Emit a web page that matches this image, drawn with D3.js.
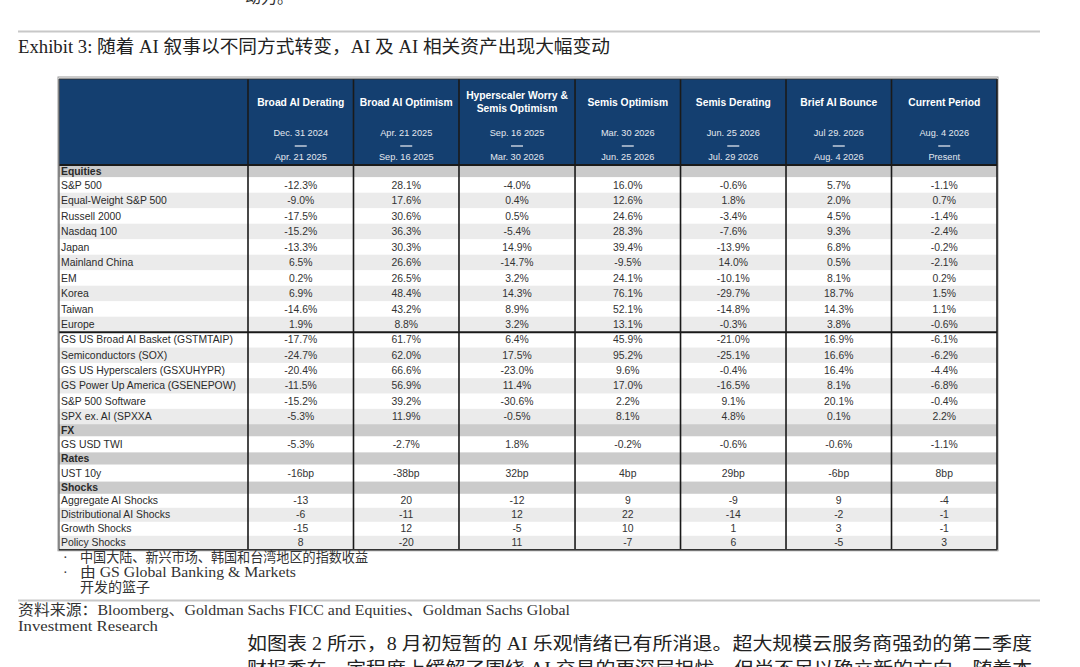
<!DOCTYPE html>
<html><head><meta charset="utf-8">
<script src="https://cdn.jsdelivr.net/npm/d3@7"></script>
<style>
html,body{margin:0;padding:0;background:#fff;}
svg{display:block;}
</style></head>
<body>
<script>
// ---------- data ----------
const columns = ["Broad AI Derating","Broad AI Optimism","Hyperscaler Worry &|Semis Optimism","Semis Optimism","Semis Derating","Brief AI Bounce","Current Period"];
const startDates = ["Dec. 31 2024","Apr. 21 2025","Sep. 16 2025","Mar. 30 2026","Jun. 25 2026","Jul 29. 2026","Aug. 4 2026"];
const endDates = ["Apr. 21 2025","Sep. 16 2025","Mar. 30 2026","Jun. 25 2026","Jul. 29 2026","Aug. 4 2026","Present"];

const equityLabels = ["S&P 500","Equal-Weight S&P 500","Russell 2000","Nasdaq 100","Japan","Mainland China","EM","Korea","Taiwan","Europe"];
const equityValues = [
  [-12.3,28.1,-4.0,16.0,-0.6,5.7,-1.1],
  [-9.0,17.6,0.4,12.6,1.8,2.0,0.7],
  [-17.5,30.6,0.5,24.6,-3.4,4.5,-1.4],
  [-15.2,36.3,-5.4,28.3,-7.6,9.3,-2.4],
  [-13.3,30.3,14.9,39.4,-13.9,6.8,-0.2],
  [6.5,26.6,-14.7,-9.5,14.0,0.5,-2.1],
  [0.2,26.5,3.2,24.1,-10.1,8.1,0.2],
  [6.9,48.4,14.3,76.1,-29.7,18.7,1.5],
  [-14.6,43.2,8.9,52.1,-14.8,14.3,1.1],
  [1.9,8.8,3.2,13.1,-0.3,3.8,-0.6]
];
const aiLabels = ["GS US Broad AI Basket (GSTMTAIP)","Semiconductors (SOX)","GS US Hyperscalers (GSXUHYPR)","GS Power Up America (GSENEPOW)","S&P 500 Software","SPX ex. AI (SPXXA"];
const aiValues = [
  [-17.7,61.7,6.4,45.9,-21.0,16.9,-6.1],
  [-24.7,62.0,17.5,95.2,-25.1,16.6,-6.2],
  [-20.4,66.6,-23.0,9.6,-0.4,16.4,-4.4],
  [-11.5,56.9,11.4,17.0,-16.5,8.1,-6.8],
  [-15.2,39.2,-30.6,2.2,9.1,20.1,-0.4],
  [-5.3,11.9,-0.5,8.1,4.8,0.1,2.2]
];
const fxLabels = ["GS USD TWI"];
const fxValues = [[-5.3,-2.7,1.8,-0.2,-0.6,-0.6,-1.1]];
const ratesLabels = ["UST 10y"];
const ratesValues = [[-16,-38,32,4,29,-6,8]];
const shockLabels = ["Aggregate AI Shocks","Distributional AI Shocks","Growth Shocks","Policy Shocks"];
const shockValues = [
  [-13,20,-12,9,-9,9,-4],
  [-6,-11,12,22,-14,-2,-1],
  [-15,12,-5,10,1,3,-1],
  [8,-20,11,-7,6,-5,3]
];
const sectionNames = ["Equities","FX","Rates","Shocks"];
const footnotes = ["中国大陆、新兴市场、韩国和台湾地区的指数收益","由 GS Global Banking & Markets|开发的篮子"];
const titleText = "Exhibit 3: 随着 AI 叙事以不同方式转变，AI 及 AI 相关资产出现大幅变动";
const sourceText = ["资料来源：Bloomberg、Goldman Sachs FICC and Equities、Goldman Sachs Global","Investment Research"];
const bodyText = ["如图表 2 所示，8 月初短暂的 AI 乐观情绪已有所消退。超大规模云服务商强劲的第二季度","财报季在一定程度上缓解了围绕 AI 交易的更深层担忧，但尚不足以确立新的方向。随着本"];
const topCutText = "动力。";

// ---------- layout ----------
const W = 1080, H = 667;
const svg = d3.select("body").append("svg").attr("width",W).attr("height",H);
const sans = "'Liberation Sans', Arial, sans-serif";
const serif = "'Liberation Serif','DejaVu Serif','Noto Sans CJK SC',serif";

const hy = s => s.replace(/\u2212/g, "-");
const pct = v => hy(d3.format(".1f")(v)) + "%";
const bp = v => hy(d3.format("d")(v)) + "bp";
const num = v => hy(d3.format("d")(v));

// Build row model
const rows = [];
function addSection(name, labels, values, fmt, h, group){
  rows.push({type:"section", label:name, h:12.2});
  labels.forEach((l,i)=>rows.push({type:"data", label:l, values:values[i], fmt, h, group}));
}
addSection(sectionNames[0], equityLabels, equityValues, pct, 15.5, "eq");
aiLabels.forEach((l,i)=>rows.push({type:"data", label:l, values:aiValues[i], fmt:pct, h:15.33, group:"ai"}));
addSection(sectionNames[1], fxLabels, fxValues, pct, 16, "fx");
addSection(sectionNames[2], ratesLabels, ratesValues, bp, 17, "rt");
addSection(sectionNames[3], shockLabels, shockValues, num, 14, "sh");

const tableLeft = 59, tableRight = 997, headTop = 79, headBottom = 165;
let yc = headBottom;
let stripe = 0;
rows.forEach((r,i)=>{
  r.y = yc; yc += r.h;
  if(r.type==="data"){ r.stripe = stripe++ % 2; } else { stripe = 0; }
});
const tableBottom = yc;

// column scale (Hyperscaler column is wider)
const colWeights = [1,1,1.1,1,1,1,1];
const cum = [0, ...d3.cumsum(colWeights)];
const x = d3.scaleLinear().domain([0, cum[cum.length-1]]).range([248, tableRight]);
const colX0 = i => x(cum[i]);
const colX1 = i => x(cum[i+1]);
const colC = i => (colX0(i)+colX1(i))/2;

// top cut text and line
svg.append("text").attr("x",245).attr("y",3).attr("font-family",serif).attr("font-size",16).attr("fill","#333").text(topCutText);
svg.append("line").attr("x1",18).attr("x2",1040).attr("y1",31.5).attr("y2",31.5).attr("stroke","#c8c8c8").attr("stroke-width",2);
svg.append("text").attr("x",18).attr("y",53).attr("font-family",serif).attr("font-size",18).attr("fill","#222")
  .attr("textLength",592).attr("lengthAdjust","spacingAndGlyphs").text(titleText);

// header band
const g = svg.append("g");
g.append("rect").attr("x",tableLeft-1).attr("y",headTop-2).attr("width",tableRight-tableLeft+2).attr("height",tableBottom-headTop+3).attr("fill","none").attr("stroke","#9a9a9a").attr("stroke-width",1);
g.append("rect").attr("x",tableLeft).attr("y",headTop).attr("width",tableRight-tableLeft).attr("height",headBottom-headTop).attr("fill","#143f70");

// rows background
g.selectAll("rect.row").data(rows).join("rect").attr("class","row")
  .attr("x",tableLeft).attr("width",tableRight-tableLeft)
  .attr("y",d=>d.y).attr("height",d=>d.h+0.3)
  .attr("fill",d=>d.type==="section" ? "#cbcbcb" : (d.stripe ? "#ebebeb" : "#ffffff"));

// header texts
columns.forEach((c,i)=>{
  const parts = c.split("|");
  const t = g.append("text").attr("text-anchor","middle").attr("font-family",sans).attr("font-weight","bold").attr("font-size",10.3).attr("fill","#fff");
  if(parts.length===1){
    t.append("tspan").attr("x",colC(i)).attr("y",106).text(parts[0]);
  } else {
    t.append("tspan").attr("x",colC(i)).attr("y",99).text(parts[0]);
    t.append("tspan").attr("x",colC(i)).attr("y",112).text(parts[1]);
  }
  g.append("text").attr("x",colC(i)).attr("y",136).attr("text-anchor","middle").attr("font-family",sans).attr("font-size",9.2).attr("fill","#e4e8ef").text(startDates[i]);
  g.append("line").attr("x1",colC(i)-6).attr("x2",colC(i)+6).attr("y1",146).attr("y2",146).attr("stroke","#dfe4ec").attr("stroke-width",1.3);
  g.append("text").attr("x",colC(i)).attr("y",160).attr("text-anchor","middle").attr("font-family",sans).attr("font-size",9.2).attr("fill","#e4e8ef").text(endDates[i]);
});

// row labels
g.selectAll("text.lab").data(rows).join("text").attr("class","lab")
  .attr("x",61).attr("y",d=>d.y+d.h/2+3.6)
  .attr("font-family",sans).attr("font-size",10.4)
  .attr("font-weight",d=>d.type==="section"?"bold":"normal")
  .attr("fill","#2a2a2a").text(d=>d.label);

// values
const dataRows = rows.filter(r=>r.type==="data");
const cells = dataRows.flatMap(r=>r.values.map((v,i)=>({r,v,i})));
g.selectAll("text.val").data(cells).join("text").attr("class","val")
  .attr("x",d=>colC(d.i)).attr("y",d=>d.r.y+d.r.h/2+3.6)
  .attr("text-anchor","middle").attr("font-family",sans).attr("font-size",10.4).attr("fill","#333")
  .text(d=>d.r.fmt(d.v));

// lines
g.append("line").attr("x1",tableLeft).attr("x2",tableRight).attr("y1",headBottom).attr("y2",headBottom).attr("stroke","#1a1a1a").attr("stroke-width",2);
const aiStart = rows.find(r=>r.group==="ai").y;
g.append("line").attr("x1",tableLeft).attr("x2",tableRight).attr("y1",aiStart).attr("y2",aiStart).attr("stroke","#1a1a1a").attr("stroke-width",2);
d3.range(columns.length).forEach(i=>{
  g.append("line").attr("x1",colX0(i)).attr("x2",colX0(i)).attr("y1",headTop).attr("y2",tableBottom).attr("stroke","#1a1a1a").attr("stroke-width",1.6);
});
g.append("line").attr("x1",tableRight).attr("x2",tableRight).attr("y1",headTop).attr("y2",tableBottom).attr("stroke","#1a1a1a").attr("stroke-width",1.6);
g.append("line").attr("x1",tableLeft).attr("x2",tableLeft).attr("y1",headTop).attr("y2",tableBottom).attr("stroke","#555").attr("stroke-width",1.2);
g.append("line").attr("x1",tableLeft).attr("x2",tableRight).attr("y1",tableBottom).attr("y2",tableBottom).attr("stroke","#333").attr("stroke-width",1.6);
g.append("line").attr("x1",tableLeft).attr("x2",tableRight).attr("y1",headTop).attr("y2",headTop).attr("stroke","#333").attr("stroke-width",1.2);

// footnotes
const fn = svg.append("g").attr("font-family",serif).attr("font-size",14).attr("fill","#333");
fn.append("text").attr("x",63).attr("y",562).text("·");
fn.append("text").attr("x",80).attr("y",562).attr("textLength",288).attr("lengthAdjust","spacingAndGlyphs").text(footnotes[0]);
fn.append("text").attr("x",63).attr("y",577).text("·");
const f2 = footnotes[1].split("|");
fn.append("text").attr("x",80).attr("y",577).attr("textLength",216).attr("lengthAdjust","spacingAndGlyphs").text(f2[0]);
fn.append("text").attr("x",80).attr("y",592).text(f2[1]);

svg.append("line").attr("x1",18).attr("x2",1040).attr("y1",600.5).attr("y2",600.5).attr("stroke","#c8c8c8").attr("stroke-width",2);
const src = svg.append("g").attr("font-family",serif).attr("font-size",15).attr("fill","#333");
src.append("text").attr("x",18).attr("y",615).attr("textLength",552).attr("lengthAdjust","spacingAndGlyphs").text(sourceText[0]);
src.append("text").attr("x",18).attr("y",631).attr("textLength",140).attr("lengthAdjust","spacingAndGlyphs").text(sourceText[1]);

const body = svg.append("g").attr("font-family",serif).attr("font-size",18).attr("fill","#222");
body.append("text").attr("x",247).attr("y",650).attr("textLength",785).attr("lengthAdjust","spacingAndGlyphs").text(bodyText[0]);
body.append("text").attr("x",247).attr("y",675).attr("textLength",785).attr("lengthAdjust","spacingAndGlyphs").text(bodyText[1]);
</script>
</body></html>
